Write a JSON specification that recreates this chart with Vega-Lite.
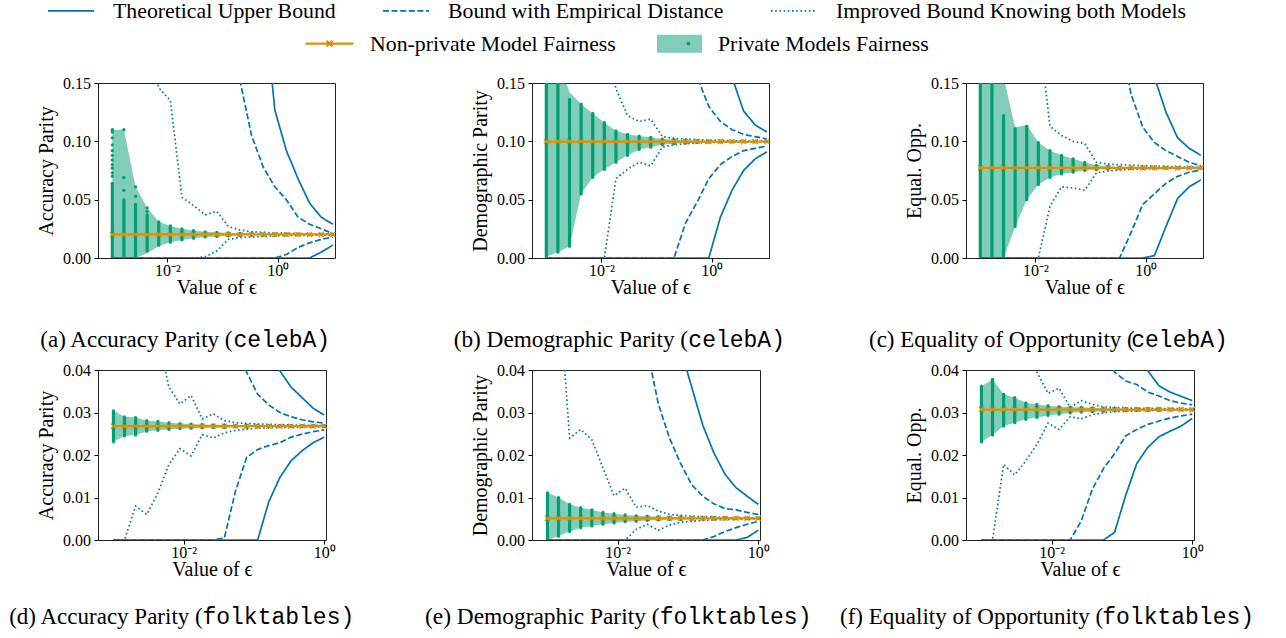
{
"$schema":"https://vega.github.io/schema/vega-lite/v6.json",
"padding":{"left":8,"top":0,"right":0,"bottom":0},
"background":"white",
"columns":3,
"spacing":{"row":112,"column":197},
"bounds":"flush",
"resolve":{"scale":{"strokeDash":"shared","color":"shared","fill":"shared","shape":"shared"}},
"config":{
"view":{"stroke":"#222","strokeWidth":1},
"font":"Liberation Serif",
"axis":{"labelFont":"Liberation Serif","labelFontSize":16,"labelColor":"#000","titleFont":"Liberation Serif","titleFontSize":20,"titleFontWeight":"normal","titleColor":"#000","domain":false,"grid":false,"ticks":true,"tickColor":"#000","tickSize":4,"tickWidth":1},
"axisX":{"labelBaseline":"alphabetic","labelPadding":13.3,"labelFlush":false,"labelOverlap":false,"titleBaseline":"alphabetic","titleY":35},
"axisY":{"labelPadding":3.5,"titleX":-46,"titleBaseline":"alphabetic"},
"legend":{"labelFont":"Liberation Serif","labelFontSize":21.8,"labelColor":"#000","padding":0,"clipHeight":20,"labelLimit":500},
"title":{"font":"Liberation Serif","fontSize":23,"fontWeight":"normal","color":"#000","anchor":"start","frame":"group","orient":"bottom","subtitleFont":"Liberation Mono","subtitleFontSize":23,"subtitleColor":"#000","subtitlePadding":-23,"limit":0}
},
"datasets":{
"m":[
{"p":"a","e":0.001,"tu":2,"tl":0,"du":1,"dl":0,"iu":0.6,"il":0,"lo":0,"hi":0.11,"s1":0,"s2":0.064,"f":0.0202},
{"p":"a","e":0.001624,"tu":1.7,"tl":0,"du":0.9,"dl":0,"iu":0.45,"il":0,"lo":0,"hi":0.11,"s1":0,"s2":0.05,"f":0.0202},
{"p":"a","e":0.002637,"tu":1.5,"tl":0,"du":0.8,"dl":0,"iu":0.3,"il":0,"lo":0,"hi":0.061,"s1":0,"s2":0.046,"f":0.0202},
{"p":"a","e":0.004281,"tu":1.3,"tl":0,"du":0.7,"dl":0,"iu":0.19,"il":0,"lo":0.004,"hi":0.043,"s1":0.006,"s2":0.037,"f":0.0202},
{"p":"a","e":0.006952,"tu":1.1,"tl":0,"du":0.6,"dl":0,"iu":0.146,"il":0,"lo":0.01,"hi":0.031,"s1":0.011,"s2":0.031,"f":0.0202},
{"p":"a","e":0.01129,"tu":1,"tl":0,"du":0.5,"dl":0,"iu":0.135,"il":0,"lo":0.0135,"hi":0.0275,"s1":0.0135,"s2":0.0275,"f":0.0202},
{"p":"a","e":0.01833,"tu":0.9,"tl":0,"du":0.45,"dl":0,"iu":0.052,"il":0,"lo":0.0155,"hi":0.025,"s1":0.0155,"s2":0.025,"f":0.0202},
{"p":"a","e":0.02976,"tu":0.8,"tl":0,"du":0.4,"dl":0,"iu":0.045,"il":0,"lo":0.017,"hi":0.0235,"s1":0.017,"s2":0.0235,"f":0.0202},
{"p":"a","e":0.04833,"tu":0.7,"tl":0,"du":0.35,"dl":0,"iu":0.037,"il":0.001,"lo":0.018,"hi":0.0225,"s1":0.018,"s2":0.0225,"f":0.0202},
{"p":"a","e":0.07848,"tu":0.6,"tl":0,"du":0.3,"dl":0,"iu":0.04,"il":0.006,"lo":0.0185,"hi":0.022,"s1":0.0185,"s2":0.022,"f":0.0202},
{"p":"a","e":0.1274,"tu":0.5,"tl":0,"du":0.25,"dl":0,"iu":0.027,"il":0.016,"lo":0.019,"hi":0.0215,"s1":0.019,"s2":0.0215,"f":0.0202},
{"p":"a","e":0.2069,"tu":0.4,"tl":0,"du":0.152,"dl":0,"iu":0.024,"il":0.0175,"lo":0.0192,"hi":0.0212,"s1":0.0192,"s2":0.0212,"f":0.0202},
{"p":"a","e":0.336,"tu":0.32,"tl":0,"du":0.105,"dl":0,"iu":0.0225,"il":0.018,"lo":0.0194,"hi":0.021,"s1":0.0194,"s2":0.021,"f":0.0202},
{"p":"a","e":0.5456,"tu":0.23,"tl":0,"du":0.078,"dl":0,"iu":0.022,"il":0.0185,"lo":0.0196,"hi":0.0208,"s1":0.0196,"s2":0.0208,"f":0.0202},
{"p":"a","e":0.8859,"tu":0.127,"tl":0,"du":0.061,"dl":0,"iu":0.0215,"il":0.019,"lo":0.0197,"hi":0.0207,"s1":0.0197,"s2":0.0207,"f":0.0202},
{"p":"a","e":1.438,"tu":0.092,"tl":0,"du":0.05,"dl":0.003,"iu":0.0212,"il":0.0192,"lo":0.0198,"hi":0.0206,"s1":0.0198,"s2":0.0206,"f":0.0202},
{"p":"a","e":2.336,"tu":0.068,"tl":0,"du":0.035,"dl":0.009,"iu":0.021,"il":0.0194,"lo":0.0199,"hi":0.0205,"s1":0.0199,"s2":0.0205,"f":0.0202},
{"p":"a","e":3.793,"tu":0.047,"tl":0,"du":0.029,"dl":0.013,"iu":0.0208,"il":0.0195,"lo":0.0199,"hi":0.0204,"s1":0.0199,"s2":0.0204,"f":0.0202},
{"p":"a","e":6.158,"tu":0.035,"tl":0.005,"du":0.025,"dl":0.016,"iu":0.0207,"il":0.0196,"lo":0.02,"hi":0.0204,"s1":0.02,"s2":0.0204,"f":0.0202},
{"p":"a","e":10,"tu":0.029,"tl":0.011,"du":0.021,"dl":0.018,"iu":0.0205,"il":0.0197,"lo":0.0201,"hi":0.0203,"s1":0.0201,"s2":0.0203,"f":0.0202},

{"p":"b","e":0.001,"tu":3,"tl":0,"du":2.5,"dl":0,"iu":1.2,"il":0,"lo":0.001,"hi":0.17,"s1":0.001,"s2":0.16,"f":0.0998},
{"p":"b","e":0.001624,"tu":2.6,"tl":0,"du":2.2,"dl":0,"iu":1,"il":0,"lo":0.005,"hi":0.17,"s1":0.005,"s2":0.16,"f":0.0998},
{"p":"b","e":0.002637,"tu":2.3,"tl":0,"du":1.9,"dl":0,"iu":0.8,"il":0,"lo":0.01,"hi":0.142,"s1":0.01,"s2":0.136,"f":0.0998},
{"p":"b","e":0.004281,"tu":2,"tl":0,"du":1.6,"dl":0,"iu":0.5,"il":0,"lo":0.055,"hi":0.132,"s1":0.055,"s2":0.132,"f":0.0998},
{"p":"b","e":0.006952,"tu":1.8,"tl":0,"du":1.3,"dl":0,"iu":0.3,"il":0,"lo":0.069,"hi":0.124,"s1":0.069,"s2":0.124,"f":0.0998},
{"p":"b","e":0.01129,"tu":1.6,"tl":0,"du":1.1,"dl":0,"iu":0.2,"il":0,"lo":0.076,"hi":0.116,"s1":0.076,"s2":0.116,"f":0.0998},
{"p":"b","e":0.01833,"tu":1.4,"tl":0,"du":0.9,"dl":0,"iu":0.145,"il":0.068,"lo":0.082,"hi":0.109,"s1":0.082,"s2":0.109,"f":0.0998},
{"p":"b","e":0.02976,"tu":1.2,"tl":0,"du":0.75,"dl":0,"iu":0.122,"il":0.076,"lo":0.088,"hi":0.106,"s1":0.088,"s2":0.106,"f":0.0998},
{"p":"b","e":0.04833,"tu":1,"tl":0,"du":0.6,"dl":0,"iu":0.117,"il":0.082,"lo":0.093,"hi":0.1045,"s1":0.093,"s2":0.1045,"f":0.0998},
{"p":"b","e":0.07848,"tu":0.9,"tl":0,"du":0.5,"dl":0,"iu":0.119,"il":0.079,"lo":0.095,"hi":0.1035,"s1":0.095,"s2":0.1035,"f":0.0998},
{"p":"b","e":0.1274,"tu":0.8,"tl":0,"du":0.4,"dl":0,"iu":0.104,"il":0.095,"lo":0.097,"hi":0.102,"s1":0.097,"s2":0.102,"f":0.0998},
{"p":"b","e":0.2069,"tu":0.7,"tl":0,"du":0.3,"dl":0,"iu":0.1025,"il":0.097,"lo":0.098,"hi":0.1015,"s1":0.098,"s2":0.1015,"f":0.0998},
{"p":"b","e":0.336,"tu":0.6,"tl":0,"du":0.22,"dl":0.03,"iu":0.102,"il":0.098,"lo":0.0985,"hi":0.101,"s1":0.0985,"s2":0.101,"f":0.0998},
{"p":"b","e":0.5456,"tu":0.5,"tl":0,"du":0.155,"dl":0.048,"iu":0.1015,"il":0.0985,"lo":0.099,"hi":0.1007,"s1":0.099,"s2":0.1007,"f":0.0998},
{"p":"b","e":0.8859,"tu":0.4,"tl":0,"du":0.13,"dl":0.068,"iu":0.101,"il":0.099,"lo":0.0992,"hi":0.1005,"s1":0.0992,"s2":0.1005,"f":0.0998},
{"p":"b","e":1.438,"tu":0.22,"tl":0.035,"du":0.117,"dl":0.08,"iu":0.1008,"il":0.0992,"lo":0.0994,"hi":0.1003,"s1":0.0994,"s2":0.1003,"f":0.0998},
{"p":"b","e":2.336,"tu":0.155,"tl":0.058,"du":0.11,"dl":0.087,"iu":0.1005,"il":0.0994,"lo":0.0995,"hi":0.1002,"s1":0.0995,"s2":0.1002,"f":0.0998},
{"p":"b","e":3.793,"tu":0.126,"tl":0.075,"du":0.106,"dl":0.092,"iu":0.1003,"il":0.0995,"lo":0.0996,"hi":0.1001,"s1":0.0996,"s2":0.1001,"f":0.0998},
{"p":"b","e":6.158,"tu":0.114,"tl":0.085,"du":0.104,"dl":0.094,"iu":0.1002,"il":0.0996,"lo":0.0996,"hi":0.1001,"s1":0.0996,"s2":0.1001,"f":0.0998},
{"p":"b","e":10,"tu":0.108,"tl":0.091,"du":0.102,"dl":0.096,"iu":0.1001,"il":0.0997,"lo":0.0997,"hi":0.1,"s1":0.0997,"s2":0.1,"f":0.0998},

{"p":"c","e":0.001,"tu":3,"tl":0,"du":2.5,"dl":0,"iu":1.2,"il":0,"lo":0,"hi":0.17,"s1":0,"s2":0.16,"f":0.0773},
{"p":"c","e":0.001624,"tu":2.6,"tl":0,"du":2.2,"dl":0,"iu":1,"il":0,"lo":0,"hi":0.17,"s1":0,"s2":0.16,"f":0.0773},
{"p":"c","e":0.002637,"tu":2.3,"tl":0,"du":1.9,"dl":0,"iu":0.7,"il":0,"lo":0,"hi":0.155,"s1":0,"s2":0.122,"f":0.0773},
{"p":"c","e":0.004281,"tu":2,"tl":0,"du":1.6,"dl":0,"iu":0.45,"il":0,"lo":0.0265,"hi":0.112,"s1":0.027,"s2":0.111,"f":0.0773},
{"p":"c","e":0.006952,"tu":1.8,"tl":0,"du":1.3,"dl":0,"iu":0.3,"il":0,"lo":0.05,"hi":0.114,"s1":0.05,"s2":0.113,"f":0.0773},
{"p":"c","e":0.01129,"tu":1.6,"tl":0,"du":1.1,"dl":0,"iu":0.2,"il":0,"lo":0.063,"hi":0.099,"s1":0.063,"s2":0.099,"f":0.0773},
{"p":"c","e":0.01833,"tu":1.4,"tl":0,"du":0.9,"dl":0,"iu":0.113,"il":0.044,"lo":0.069,"hi":0.092,"s1":0.069,"s2":0.092,"f":0.0773},
{"p":"c","e":0.02976,"tu":1.2,"tl":0,"du":0.75,"dl":0,"iu":0.105,"il":0.061,"lo":0.072,"hi":0.088,"s1":0.072,"s2":0.088,"f":0.0773},
{"p":"c","e":0.04833,"tu":1,"tl":0,"du":0.6,"dl":0,"iu":0.1,"il":0.06,"lo":0.0735,"hi":0.085,"s1":0.0735,"s2":0.085,"f":0.0773},
{"p":"c","e":0.07848,"tu":0.9,"tl":0,"du":0.5,"dl":0,"iu":0.098,"il":0.058,"lo":0.075,"hi":0.082,"s1":0.075,"s2":0.082,"f":0.0773},
{"p":"c","e":0.1274,"tu":0.8,"tl":0,"du":0.4,"dl":0,"iu":0.082,"il":0.073,"lo":0.0758,"hi":0.0795,"s1":0.0758,"s2":0.0795,"f":0.0773},
{"p":"c","e":0.2069,"tu":0.7,"tl":0,"du":0.3,"dl":0,"iu":0.0805,"il":0.0745,"lo":0.0762,"hi":0.0785,"s1":0.0762,"s2":0.0785,"f":0.0773},
{"p":"c","e":0.336,"tu":0.6,"tl":0,"du":0.19,"dl":0,"iu":0.08,"il":0.0755,"lo":0.0765,"hi":0.078,"s1":0.0765,"s2":0.078,"f":0.0773},
{"p":"c","e":0.5456,"tu":0.5,"tl":0,"du":0.14,"dl":0.022,"iu":0.0795,"il":0.076,"lo":0.0767,"hi":0.0778,"s1":0.0767,"s2":0.0778,"f":0.0773},
{"p":"c","e":0.8859,"tu":0.22,"tl":0,"du":0.112,"dl":0.046,"iu":0.079,"il":0.0763,"lo":0.0768,"hi":0.0777,"s1":0.0768,"s2":0.0777,"f":0.0773},
{"p":"c","e":1.438,"tu":0.155,"tl":0.002,"du":0.099,"dl":0.055,"iu":0.0787,"il":0.0766,"lo":0.0769,"hi":0.0776,"s1":0.0769,"s2":0.0776,"f":0.0773},
{"p":"c","e":2.336,"tu":0.125,"tl":0.027,"du":0.092,"dl":0.064,"iu":0.0784,"il":0.0768,"lo":0.077,"hi":0.0776,"s1":0.077,"s2":0.0776,"f":0.0773},
{"p":"c","e":3.793,"tu":0.103,"tl":0.051,"du":0.087,"dl":0.07,"iu":0.0781,"il":0.077,"lo":0.077,"hi":0.0775,"s1":0.077,"s2":0.0775,"f":0.0773},
{"p":"c","e":6.158,"tu":0.094,"tl":0.061,"du":0.082,"dl":0.0735,"iu":0.0779,"il":0.0771,"lo":0.0771,"hi":0.0775,"s1":0.0771,"s2":0.0775,"f":0.0773},
{"p":"c","e":10,"tu":0.088,"tl":0.067,"du":0.079,"dl":0.0755,"iu":0.0777,"il":0.0772,"lo":0.0771,"hi":0.0775,"s1":0.0771,"s2":0.0775,"f":0.0773},

{"p":"d","e":0.001,"tu":2,"tl":0,"du":1,"dl":0,"iu":0.3,"il":0,"lo":0.0231,"hi":0.0304,"s1":0.0231,"s2":0.0304,"f":0.0268},
{"p":"d","e":0.001438,"tu":1.6,"tl":0,"du":0.8,"dl":0,"iu":0.2,"il":0,"lo":0.0245,"hi":0.029,"s1":0.0245,"s2":0.029,"f":0.0268},
{"p":"d","e":0.002069,"tu":1.3,"tl":0,"du":0.6,"dl":0,"iu":0.12,"il":0.008,"lo":0.0247,"hi":0.0288,"s1":0.0247,"s2":0.0288,"f":0.0268},
{"p":"d","e":0.002976,"tu":1,"tl":0,"du":0.45,"dl":0,"iu":0.08,"il":0.006,"lo":0.0256,"hi":0.0281,"s1":0.0256,"s2":0.0281,"f":0.0268},
{"p":"d","e":0.004281,"tu":0.8,"tl":0,"du":0.35,"dl":0,"iu":0.048,"il":0.011,"lo":0.0258,"hi":0.0279,"s1":0.0258,"s2":0.0279,"f":0.0268},
{"p":"d","e":0.006158,"tu":0.6,"tl":0,"du":0.25,"dl":0,"iu":0.036,"il":0.0178,"lo":0.026,"hi":0.0276,"s1":0.026,"s2":0.0276,"f":0.0268},
{"p":"d","e":0.008859,"tu":0.5,"tl":0,"du":0.18,"dl":0,"iu":0.032,"il":0.0215,"lo":0.0262,"hi":0.0274,"s1":0.0262,"s2":0.0274,"f":0.0268},
{"p":"d","e":0.01274,"tu":0.4,"tl":0,"du":0.13,"dl":0,"iu":0.034,"il":0.0198,"lo":0.0263,"hi":0.0273,"s1":0.0263,"s2":0.0273,"f":0.0268},
{"p":"d","e":0.01833,"tu":0.3,"tl":0,"du":0.1,"dl":0,"iu":0.0285,"il":0.0248,"lo":0.0264,"hi":0.0272,"s1":0.0264,"s2":0.0272,"f":0.0268},
{"p":"d","e":0.02637,"tu":0.22,"tl":0,"du":0.08,"dl":0,"iu":0.0297,"il":0.024,"lo":0.0265,"hi":0.0271,"s1":0.0265,"s2":0.0271,"f":0.0268},
{"p":"d","e":0.03793,"tu":0.16,"tl":0,"du":0.07,"dl":0.0005,"iu":0.0281,"il":0.0252,"lo":0.0265,"hi":0.0271,"s1":0.0265,"s2":0.0271,"f":0.0268},
{"p":"d","e":0.05456,"tu":0.12,"tl":0,"du":0.06,"dl":0.0115,"iu":0.0276,"il":0.0258,"lo":0.0266,"hi":0.027,"s1":0.0266,"s2":0.027,"f":0.0268},
{"p":"d","e":0.07848,"tu":0.09,"tl":0,"du":0.0395,"dl":0.0194,"iu":0.0274,"il":0.0261,"lo":0.0266,"hi":0.027,"s1":0.0266,"s2":0.027,"f":0.0268},
{"p":"d","e":0.1129,"tu":0.075,"tl":0,"du":0.0343,"dl":0.0213,"iu":0.0273,"il":0.0263,"lo":0.0266,"hi":0.0269,"s1":0.0266,"s2":0.0269,"f":0.0268},
{"p":"d","e":0.1624,"tu":0.06,"tl":0.009,"du":0.0318,"dl":0.0222,"iu":0.0272,"il":0.0264,"lo":0.0267,"hi":0.0269,"s1":0.0267,"s2":0.0269,"f":0.0268},
{"p":"d","e":0.2336,"tu":0.0398,"tl":0.0147,"du":0.03,"dl":0.0229,"iu":0.0271,"il":0.0265,"lo":0.0267,"hi":0.0269,"s1":0.0267,"s2":0.0269,"f":0.0268},
{"p":"d","e":0.336,"tu":0.036,"tl":0.0186,"du":0.029,"dl":0.0242,"iu":0.0271,"il":0.0265,"lo":0.0267,"hi":0.0269,"s1":0.0267,"s2":0.0269,"f":0.0268},
{"p":"d","e":0.4833,"tu":0.0335,"tl":0.021,"du":0.0283,"dl":0.0249,"iu":0.027,"il":0.0266,"lo":0.0267,"hi":0.0269,"s1":0.0267,"s2":0.0269,"f":0.0268},
{"p":"d","e":0.6952,"tu":0.031,"tl":0.0229,"du":0.0278,"dl":0.0255,"iu":0.027,"il":0.0266,"lo":0.0267,"hi":0.0269,"s1":0.0267,"s2":0.0269,"f":0.0268},
{"p":"d","e":1,"tu":0.0294,"tl":0.0242,"du":0.0275,"dl":0.0259,"iu":0.027,"il":0.0266,"lo":0.0267,"hi":0.0269,"s1":0.0267,"s2":0.0269,"f":0.0268},

{"p":"e","e":0.001,"tu":2,"tl":0,"du":1,"dl":0,"iu":0.2,"il":0,"lo":0,"hi":0.0111,"s1":0,"s2":0.0111,"f":0.0051},
{"p":"e","e":0.001438,"tu":1.6,"tl":0,"du":0.8,"dl":0,"iu":0.06,"il":0,"lo":0.0009,"hi":0.01,"s1":0.0009,"s2":0.01,"f":0.0051},
{"p":"e","e":0.002069,"tu":1.3,"tl":0,"du":0.6,"dl":0,"iu":0.024,"il":0,"lo":0.002,"hi":0.0084,"s1":0.002,"s2":0.0084,"f":0.0051},
{"p":"e","e":0.002976,"tu":1,"tl":0,"du":0.45,"dl":0,"iu":0.026,"il":0,"lo":0.0029,"hi":0.0076,"s1":0.0029,"s2":0.0076,"f":0.0051},
{"p":"e","e":0.004281,"tu":0.8,"tl":0,"du":0.3,"dl":0,"iu":0.0236,"il":0,"lo":0.0033,"hi":0.0071,"s1":0.0033,"s2":0.0071,"f":0.0051},
{"p":"e","e":0.006158,"tu":0.6,"tl":0,"du":0.2,"dl":0,"iu":0.017,"il":0,"lo":0.0037,"hi":0.0065,"s1":0.0037,"s2":0.0065,"f":0.0051},
{"p":"e","e":0.008859,"tu":0.45,"tl":0,"du":0.14,"dl":0,"iu":0.0104,"il":0,"lo":0.004,"hi":0.0062,"s1":0.004,"s2":0.0062,"f":0.0051},
{"p":"e","e":0.01274,"tu":0.3,"tl":0,"du":0.1,"dl":0,"iu":0.0122,"il":0,"lo":0.0043,"hi":0.0059,"s1":0.0043,"s2":0.0059,"f":0.0051},
{"p":"e","e":0.01833,"tu":0.2,"tl":0,"du":0.07,"dl":0,"iu":0.0077,"il":0.0025,"lo":0.0044,"hi":0.0057,"s1":0.0044,"s2":0.0057,"f":0.0051},
{"p":"e","e":0.02637,"tu":0.15,"tl":0,"du":0.0445,"dl":0,"iu":0.0081,"il":0.0037,"lo":0.0046,"hi":0.0056,"s1":0.0046,"s2":0.0056,"f":0.0051},
{"p":"e","e":0.03793,"tu":0.11,"tl":0,"du":0.032,"dl":0,"iu":0.0068,"il":0.0023,"lo":0.0047,"hi":0.0055,"s1":0.0047,"s2":0.0055,"f":0.0051},
{"p":"e","e":0.05456,"tu":0.08,"tl":0,"du":0.024,"dl":0,"iu":0.006,"il":0.0035,"lo":0.0048,"hi":0.0054,"s1":0.0048,"s2":0.0054,"f":0.0051},
{"p":"e","e":0.07848,"tu":0.045,"tl":0,"du":0.018,"dl":0,"iu":0.0058,"il":0.0042,"lo":0.0048,"hi":0.0054,"s1":0.0048,"s2":0.0054,"f":0.0051},
{"p":"e","e":0.1129,"tu":0.036,"tl":0,"du":0.013,"dl":0,"iu":0.0056,"il":0.0044,"lo":0.0049,"hi":0.0053,"s1":0.0049,"s2":0.0053,"f":0.0051},
{"p":"e","e":0.1624,"tu":0.027,"tl":0,"du":0.0103,"dl":0,"iu":0.0055,"il":0.0046,"lo":0.0049,"hi":0.0053,"s1":0.0049,"s2":0.0053,"f":0.0051},
{"p":"e","e":0.2336,"tu":0.0205,"tl":0,"du":0.0085,"dl":0.0008,"iu":0.0054,"il":0.0047,"lo":0.0049,"hi":0.0053,"s1":0.0049,"s2":0.0053,"f":0.0051},
{"p":"e","e":0.336,"tu":0.0155,"tl":0,"du":0.0074,"dl":0.002,"iu":0.0053,"il":0.0048,"lo":0.005,"hi":0.0053,"s1":0.005,"s2":0.0053,"f":0.0051},
{"p":"e","e":0.4833,"tu":0.0123,"tl":0,"du":0.0071,"dl":0.0029,"iu":0.0053,"il":0.0049,"lo":0.005,"hi":0.0052,"s1":0.005,"s2":0.0052,"f":0.0051},
{"p":"e","e":0.6952,"tu":0.0103,"tl":0.0006,"du":0.0065,"dl":0.0037,"iu":0.0052,"il":0.0049,"lo":0.005,"hi":0.0052,"s1":0.005,"s2":0.0052,"f":0.0051},
{"p":"e","e":1,"tu":0.0084,"tl":0.0023,"du":0.006,"dl":0.0044,"iu":0.0052,"il":0.005,"lo":0.005,"hi":0.0052,"s1":0.005,"s2":0.0052,"f":0.0051},

{"p":"f","e":0.001,"tu":2,"tl":0,"du":1,"dl":0,"iu":0.3,"il":0,"lo":0.0231,"hi":0.0362,"s1":0.0231,"s2":0.0362,"f":0.0307},
{"p":"f","e":0.001438,"tu":1.6,"tl":0,"du":0.8,"dl":0,"iu":0.2,"il":0,"lo":0.0247,"hi":0.0378,"s1":0.0247,"s2":0.0378,"f":0.0307},
{"p":"f","e":0.002069,"tu":1.3,"tl":0,"du":0.6,"dl":0,"iu":0.12,"il":0.0178,"lo":0.0268,"hi":0.0343,"s1":0.0268,"s2":0.0343,"f":0.0307},
{"p":"f","e":0.002976,"tu":1,"tl":0,"du":0.45,"dl":0,"iu":0.08,"il":0.0153,"lo":0.0276,"hi":0.0335,"s1":0.0276,"s2":0.0335,"f":0.0307},
{"p":"f","e":0.004281,"tu":0.8,"tl":0,"du":0.35,"dl":0,"iu":0.06,"il":0.0186,"lo":0.0284,"hi":0.0323,"s1":0.0284,"s2":0.0323,"f":0.0307},
{"p":"f","e":0.006158,"tu":0.6,"tl":0,"du":0.25,"dl":0,"iu":0.0395,"il":0.0225,"lo":0.0288,"hi":0.0319,"s1":0.0288,"s2":0.0319,"f":0.0307},
{"p":"f","e":0.008859,"tu":0.5,"tl":0,"du":0.18,"dl":0,"iu":0.0345,"il":0.0275,"lo":0.0293,"hi":0.0316,"s1":0.0293,"s2":0.0316,"f":0.0307},
{"p":"f","e":0.01274,"tu":0.4,"tl":0,"du":0.13,"dl":0,"iu":0.0357,"il":0.026,"lo":0.0296,"hi":0.0314,"s1":0.0296,"s2":0.0314,"f":0.0307},
{"p":"f","e":0.01833,"tu":0.3,"tl":0,"du":0.1,"dl":0,"iu":0.0312,"il":0.029,"lo":0.0299,"hi":0.0313,"s1":0.0299,"s2":0.0313,"f":0.0307},
{"p":"f","e":0.02637,"tu":0.22,"tl":0,"du":0.075,"dl":0.0045,"iu":0.0328,"il":0.0285,"lo":0.0301,"hi":0.0312,"s1":0.0301,"s2":0.0312,"f":0.0307},
{"p":"f","e":0.03793,"tu":0.16,"tl":0,"du":0.06,"dl":0.012,"iu":0.0319,"il":0.0295,"lo":0.0302,"hi":0.0311,"s1":0.0302,"s2":0.0311,"f":0.0307},
{"p":"f","e":0.05456,"tu":0.12,"tl":0,"du":0.046,"dl":0.0168,"iu":0.0313,"il":0.0299,"lo":0.0303,"hi":0.031,"s1":0.0303,"s2":0.031,"f":0.0307},
{"p":"f","e":0.07848,"tu":0.09,"tl":0.0018,"du":0.0395,"dl":0.0203,"iu":0.0312,"il":0.0302,"lo":0.0304,"hi":0.031,"s1":0.0304,"s2":0.031,"f":0.0307},
{"p":"f","e":0.1129,"tu":0.075,"tl":0.0105,"du":0.0374,"dl":0.0245,"iu":0.0311,"il":0.0303,"lo":0.0304,"hi":0.0309,"s1":0.0304,"s2":0.0309,"f":0.0307},
{"p":"f","e":0.1624,"tu":0.06,"tl":0.018,"du":0.0366,"dl":0.026,"iu":0.031,"il":0.0304,"lo":0.0305,"hi":0.0309,"s1":0.0305,"s2":0.0309,"f":0.0307},
{"p":"f","e":0.2336,"tu":0.0398,"tl":0.0218,"du":0.0348,"dl":0.0272,"iu":0.031,"il":0.0305,"lo":0.0305,"hi":0.0309,"s1":0.0305,"s2":0.0309,"f":0.0307},
{"p":"f","e":0.336,"tu":0.0363,"tl":0.0243,"du":0.0339,"dl":0.028,"iu":0.0309,"il":0.0305,"lo":0.0305,"hi":0.0309,"s1":0.0305,"s2":0.0309,"f":0.0307},
{"p":"f","e":0.4833,"tu":0.0348,"tl":0.0256,"du":0.0328,"dl":0.0287,"iu":0.0309,"il":0.0306,"lo":0.0306,"hi":0.0308,"s1":0.0306,"s2":0.0308,"f":0.0307},
{"p":"f","e":0.6952,"tu":0.0338,"tl":0.0268,"du":0.0322,"dl":0.0292,"iu":0.0309,"il":0.0306,"lo":0.0306,"hi":0.0308,"s1":0.0306,"s2":0.0308,"f":0.0307},
{"p":"f","e":1,"tu":0.0328,"tl":0.0286,"du":0.0318,"dl":0.0296,"iu":0.0308,"il":0.0306,"lo":0.0306,"hi":0.0308,"s1":0.0306,"s2":0.0308,"f":0.0307}
],
"pts":[
{"p":"a","e":0.001,"y":0.11},{"p":"a","e":0.001,"y":0.108},{"p":"a","e":0.001,"y":0.103},{"p":"a","e":0.001,"y":0.097},{"p":"a","e":0.001,"y":0.092},{"p":"a","e":0.001,"y":0.088},{"p":"a","e":0.001,"y":0.084},{"p":"a","e":0.001,"y":0.08},{"p":"a","e":0.001,"y":0.077},{"p":"a","e":0.001,"y":0.073},{"p":"a","e":0.001,"y":0.07},
{"p":"a","e":0.001624,"y":0.11},{"p":"a","e":0.001624,"y":0.069},{"p":"a","e":0.001624,"y":0.058},
{"p":"a","e":0.002637,"y":0.061},{"p":"a","e":0.002637,"y":0.053},
{"p":"a","e":0.004281,"y":0.043},{"p":"a","e":0.004281,"y":0.04}
]
},
"concat":[
{
"width":237,"height":175,
"data":{"name":"m"},
"transform":[{"filter":"datum.p === 'a'"}],
"title":{"text":"(a) Accuracy Parity (","subtitle":"\u200b\u00a0\u00a0\u00a0\u00a0\u00a0\u00a0\u00a0\u00a0\u00a0\u00a0\u00a0\u00a0\u00a0\u00a0celebA)","dx":-57.7,"offset":32},
"encoding":{"x":{"field":"e","type":"quantitative","title":"Value of \u03f5","scale":{"type":"log","domain":[0.00055,10.96],"nice":false},"axis":{"values":[0.01,1],"labelExpr":"datum.value < 0.1 ? '10\u207b\u00b2' : '10\u2070'"}}},
"layer":[
{"mark":{"type":"area","clip":true,"opacity":0.5},"encoding":{"y":{"field":"lo","type":"quantitative","title":"Accuracy Parity","scale":{"domain":[0,0.15],"nice":false,"zero":false},"axis":{"values":[0,0.05,0.1,0.15],"format":".2f"}},"y2":{"field":"hi"},"fill":{"datum":"Private Models Fairness","type":"nominal","scale":{"domain":["Private Models Fairness"],"range":["#029E73"]},"legend":{"orient":"none","legendX":559,"legendY":-49.3,"title":null,"direction":"horizontal","symbolType":"M-1,-0.4H1V0.4H-1Z","symbolSize":2025,"symbolOpacity":0.5,"symbolStrokeWidth":0,"labelOffset":16}}}},
{"transform":[{"fold":["tu","tl","du","dl","iu","il"],"as":["k","v"]}],"mark":{"type":"line","clip":true,"strokeWidth":1.7,"color":"#0173B2"},"encoding":{"y":{"field":"v","type":"quantitative","title":"Accuracy Parity","scale":{"domain":[0,0.15],"nice":false,"zero":false},"axis":{"values":[0,0.05,0.1,0.15],"format":".2f"}},"strokeDash":{"field":"k","type":"nominal","scale":{"domain":["tu","du","iu","tl","dl","il"],"range":[[1,0],[6,2.6],[1.6,2.6],[1,0],[6,2.6],[1.6,2.6]]},"legend":{"orient":"none","legendX":-51,"legendY":-82.3,"title":null,"direction":"horizontal","columns":3,"values":["tu","du","iu"],"labelExpr":"datum.value == 'tu' ? 'Theoretical Upper Bound' : (datum.value == 'du' ? 'Bound with Empirical Distance' : 'Improved Bound Knowing both Models')","symbolType":"stroke","symbolSize":2116,"symbolStrokeWidth":1.7,"symbolStrokeColor":"#0173B2","labelOffset":18,"columnPadding":46}}}},
{"mark":{"type":"rule","clip":true,"strokeWidth":3.2,"strokeCap":"round","color":"#029E73"},"encoding":{"y":{"field":"s1","type":"quantitative","title":"Accuracy Parity","scale":{"domain":[0,0.15],"nice":false,"zero":false},"axis":{"values":[0,0.05,0.1,0.15],"format":".2f"}},"y2":{"field":"s2"}}},
{"data":{"name":"pts"},"transform":[{"filter":"datum.p === 'a'"}],"mark":{"type":"point","filled":true,"size":11,"opacity":1,"color":"#029E73"},"encoding":{"y":{"field":"y","type":"quantitative","title":"Accuracy Parity","scale":{"domain":[0,0.15],"nice":false,"zero":false},"axis":{"values":[0,0.05,0.1,0.15],"format":".2f"}},"shape":{"datum":"dot","type":"nominal","scale":{"domain":["dot"],"range":["circle"]},"legend":{"orient":"none","legendX":579.5,"legendY":-49.3,"title":null,"labelExpr":"''","symbolSize":14,"symbolFillColor":"#029E73","symbolStrokeWidth":0,"labelOffset":0}}}},
{"mark":{"type":"line","strokeWidth":2.2},"encoding":{"y":{"field":"f","type":"quantitative","title":"Accuracy Parity","scale":{"domain":[0,0.15],"nice":false,"zero":false},"axis":{"values":[0,0.05,0.1,0.15],"format":".2f"}},"color":{"datum":"Non-private Model Fairness","type":"nominal","scale":{"domain":["Non-private Model Fairness"],"range":["#DE8F05"]},"legend":{"orient":"none","legendX":206,"legendY":-49.3,"title":null,"direction":"horizontal","symbolType":"M-1,0H1M-0.12,-0.12L0.12,0.12M-0.12,0.12L0.12,-0.12","symbolSize":2304,"symbolStrokeWidth":2.2,"symbolFillColor":"transparent","labelOffset":15}}}},
{"mark":{"type":"point","shape":"M-1,-1L1,1M-1,1L1,-1","size":26,"strokeWidth":1.2,"opacity":1,"filled":false,"color":"#DE8F05"},"encoding":{"y":{"field":"f","type":"quantitative","title":"Accuracy Parity","scale":{"domain":[0,0.15],"nice":false,"zero":false},"axis":{"values":[0,0.05,0.1,0.15],"format":".2f"}}}}
]
},
{
"width":237,"height":175,
"data":{"name":"m"},
"transform":[{"filter":"datum.p === 'b'"}],
"title":{"text":"(b) Demographic Parity (","subtitle":"\u200b\u00a0\u00a0\u00a0\u00a0\u00a0\u00a0\u00a0\u00a0\u00a0\u00a0\u00a0\u00a0\u00a0\u00a0\u00a0\u00a0\u00a0celebA)","dx":-78.3,"offset":32,"fontSize":23.25},
"encoding":{"x":{"field":"e","type":"quantitative","title":"Value of \u03f5","scale":{"type":"log","domain":[0.00055,10.96],"nice":false},"axis":{"values":[0.01,1],"labelExpr":"datum.value < 0.1 ? '10\u207b\u00b2' : '10\u2070'"}}},
"layer":[
{"mark":{"type":"area","clip":true,"opacity":0.5},"encoding":{"y":{"field":"lo","type":"quantitative","title":"Demographic Parity","scale":{"domain":[0,0.15],"nice":false,"zero":false},"axis":{"values":[0,0.05,0.1,0.15],"format":".2f"}},"y2":{"field":"hi"},"fill":{"datum":"Private Models Fairness","type":"nominal","legend":null}}},
{"transform":[{"fold":["tu","tl","du","dl","iu","il"],"as":["k","v"]}],"mark":{"type":"line","clip":true,"strokeWidth":1.7,"color":"#0173B2"},"encoding":{"y":{"field":"v","type":"quantitative","title":"Demographic Parity","scale":{"domain":[0,0.15],"nice":false,"zero":false},"axis":{"values":[0,0.05,0.1,0.15],"format":".2f"}},"strokeDash":{"field":"k","type":"nominal","legend":null}}},
{"mark":{"type":"rule","clip":true,"strokeWidth":3.2,"strokeCap":"round","color":"#029E73"},"encoding":{"y":{"field":"s1","type":"quantitative","title":"Demographic Parity","scale":{"domain":[0,0.15],"nice":false,"zero":false},"axis":{"values":[0,0.05,0.1,0.15],"format":".2f"}},"y2":{"field":"s2"}}},
{"mark":{"type":"line","strokeWidth":2.2},"encoding":{"y":{"field":"f","type":"quantitative","title":"Demographic Parity","scale":{"domain":[0,0.15],"nice":false,"zero":false},"axis":{"values":[0,0.05,0.1,0.15],"format":".2f"}},"color":{"datum":"Non-private Model Fairness","type":"nominal","legend":null}}},
{"mark":{"type":"point","shape":"M-1,-1L1,1M-1,1L1,-1","size":26,"strokeWidth":1.2,"opacity":1,"filled":false,"color":"#DE8F05"},"encoding":{"y":{"field":"f","type":"quantitative","title":"Demographic Parity","scale":{"domain":[0,0.15],"nice":false,"zero":false},"axis":{"values":[0,0.05,0.1,0.15],"format":".2f"}}}}
]
},
{
"width":237,"height":175,
"data":{"name":"m"},
"transform":[{"filter":"datum.p === 'c'"}],
"title":{"text":"(c) Equality of Opportunity (","subtitle":"\u200b\u00a0\u00a0\u00a0\u00a0\u00a0\u00a0\u00a0\u00a0\u00a0\u00a0\u00a0\u00a0\u00a0\u00a0\u00a0\u00a0\u00a0\u00a0\u00a0celebA)","dx":-97,"offset":32},
"encoding":{"x":{"field":"e","type":"quantitative","title":"Value of \u03f5","scale":{"type":"log","domain":[0.00055,10.96],"nice":false},"axis":{"values":[0.01,1],"labelExpr":"datum.value < 0.1 ? '10\u207b\u00b2' : '10\u2070'"}}},
"layer":[
{"mark":{"type":"area","clip":true,"opacity":0.5},"encoding":{"y":{"field":"lo","type":"quantitative","title":"Equal. Opp.","scale":{"domain":[0,0.15],"nice":false,"zero":false},"axis":{"values":[0,0.05,0.1,0.15],"format":".2f"}},"y2":{"field":"hi"},"fill":{"datum":"Private Models Fairness","type":"nominal","legend":null}}},
{"transform":[{"fold":["tu","tl","du","dl","iu","il"],"as":["k","v"]}],"mark":{"type":"line","clip":true,"strokeWidth":1.7,"color":"#0173B2"},"encoding":{"y":{"field":"v","type":"quantitative","title":"Equal. Opp.","scale":{"domain":[0,0.15],"nice":false,"zero":false},"axis":{"values":[0,0.05,0.1,0.15],"format":".2f"}},"strokeDash":{"field":"k","type":"nominal","legend":null}}},
{"mark":{"type":"rule","clip":true,"strokeWidth":3.2,"strokeCap":"round","color":"#029E73"},"encoding":{"y":{"field":"s1","type":"quantitative","title":"Equal. Opp.","scale":{"domain":[0,0.15],"nice":false,"zero":false},"axis":{"values":[0,0.05,0.1,0.15],"format":".2f"}},"y2":{"field":"s2"}}},
{"mark":{"type":"line","strokeWidth":2.2},"encoding":{"y":{"field":"f","type":"quantitative","title":"Equal. Opp.","scale":{"domain":[0,0.15],"nice":false,"zero":false},"axis":{"values":[0,0.05,0.1,0.15],"format":".2f"}},"color":{"datum":"Non-private Model Fairness","type":"nominal","legend":null}}},
{"mark":{"type":"point","shape":"M-1,-1L1,1M-1,1L1,-1","size":26,"strokeWidth":1.2,"opacity":1,"filled":false,"color":"#DE8F05"},"encoding":{"y":{"field":"f","type":"quantitative","title":"Equal. Opp.","scale":{"domain":[0,0.15],"nice":false,"zero":false},"axis":{"values":[0,0.05,0.1,0.15],"format":".2f"}}}}
]
},
{
"width":228,"height":170,
"data":{"name":"m"},
"transform":[{"filter":"datum.p === 'd'"}],
"title":{"text":"(d) Accuracy Parity (","subtitle":"\u200b\u00a0\u00a0\u00a0\u00a0\u00a0\u00a0\u00a0\u00a0\u00a0\u00a0\u00a0\u00a0\u00a0\u00a0folktables)","dx":-88.8,"offset":26.5},
"encoding":{"x":{"field":"e","type":"quantitative","title":"Value of \u03f5","scale":{"type":"log","domain":[0.000603,1.059],"nice":false},"axis":{"values":[0.01,1],"labelExpr":"datum.value < 0.1 ? '10\u207b\u00b2' : '10\u2070'"}}},
"layer":[
{"mark":{"type":"area","clip":true,"opacity":0.5},"encoding":{"y":{"field":"lo","type":"quantitative","title":"Accuracy Parity","scale":{"domain":[0,0.04],"nice":false,"zero":false},"axis":{"values":[0,0.01,0.02,0.03,0.04],"format":".2f"}},"y2":{"field":"hi"},"fill":{"datum":"Private Models Fairness","type":"nominal","legend":null}}},
{"transform":[{"fold":["tu","tl","du","dl","iu","il"],"as":["k","v"]}],"mark":{"type":"line","clip":true,"strokeWidth":1.7,"color":"#0173B2"},"encoding":{"y":{"field":"v","type":"quantitative","title":"Accuracy Parity","scale":{"domain":[0,0.04],"nice":false,"zero":false},"axis":{"values":[0,0.01,0.02,0.03,0.04],"format":".2f"}},"strokeDash":{"field":"k","type":"nominal","legend":null}}},
{"mark":{"type":"rule","clip":true,"strokeWidth":3.2,"strokeCap":"round","color":"#029E73"},"encoding":{"y":{"field":"s1","type":"quantitative","title":"Accuracy Parity","scale":{"domain":[0,0.04],"nice":false,"zero":false},"axis":{"values":[0,0.01,0.02,0.03,0.04],"format":".2f"}},"y2":{"field":"s2"}}},
{"mark":{"type":"line","strokeWidth":2.2},"encoding":{"y":{"field":"f","type":"quantitative","title":"Accuracy Parity","scale":{"domain":[0,0.04],"nice":false,"zero":false},"axis":{"values":[0,0.01,0.02,0.03,0.04],"format":".2f"}},"color":{"datum":"Non-private Model Fairness","type":"nominal","legend":null}}},
{"mark":{"type":"point","shape":"M-1,-1L1,1M-1,1L1,-1","size":26,"strokeWidth":1.2,"opacity":1,"filled":false,"color":"#DE8F05"},"encoding":{"y":{"field":"f","type":"quantitative","title":"Accuracy Parity","scale":{"domain":[0,0.04],"nice":false,"zero":false},"axis":{"values":[0,0.01,0.02,0.03,0.04],"format":".2f"}}}}
]
},
{
"width":228,"height":170,
"data":{"name":"m"},
"transform":[{"filter":"datum.p === 'e'"}],
"title":{"text":"(e) Demographic Parity (","subtitle":"\u200b\u00a0\u00a0\u00a0\u00a0\u00a0\u00a0\u00a0\u00a0\u00a0\u00a0\u00a0\u00a0\u00a0\u00a0\u00a0\u00a0\u00a0folktables)","dx":-107,"offset":26.5,"fontSize":23.4},
"encoding":{"x":{"field":"e","type":"quantitative","title":"Value of \u03f5","scale":{"type":"log","domain":[0.000603,1.059],"nice":false},"axis":{"values":[0.01,1],"labelExpr":"datum.value < 0.1 ? '10\u207b\u00b2' : '10\u2070'"}}},
"layer":[
{"mark":{"type":"area","clip":true,"opacity":0.5},"encoding":{"y":{"field":"lo","type":"quantitative","title":"Demographic Parity","scale":{"domain":[0,0.04],"nice":false,"zero":false},"axis":{"values":[0,0.01,0.02,0.03,0.04],"format":".2f"}},"y2":{"field":"hi"},"fill":{"datum":"Private Models Fairness","type":"nominal","legend":null}}},
{"transform":[{"fold":["tu","tl","du","dl","iu","il"],"as":["k","v"]}],"mark":{"type":"line","clip":true,"strokeWidth":1.7,"color":"#0173B2"},"encoding":{"y":{"field":"v","type":"quantitative","title":"Demographic Parity","scale":{"domain":[0,0.04],"nice":false,"zero":false},"axis":{"values":[0,0.01,0.02,0.03,0.04],"format":".2f"}},"strokeDash":{"field":"k","type":"nominal","legend":null}}},
{"mark":{"type":"rule","clip":true,"strokeWidth":3.2,"strokeCap":"round","color":"#029E73"},"encoding":{"y":{"field":"s1","type":"quantitative","title":"Demographic Parity","scale":{"domain":[0,0.04],"nice":false,"zero":false},"axis":{"values":[0,0.01,0.02,0.03,0.04],"format":".2f"}},"y2":{"field":"s2"}}},
{"mark":{"type":"line","strokeWidth":2.2},"encoding":{"y":{"field":"f","type":"quantitative","title":"Demographic Parity","scale":{"domain":[0,0.04],"nice":false,"zero":false},"axis":{"values":[0,0.01,0.02,0.03,0.04],"format":".2f"}},"color":{"datum":"Non-private Model Fairness","type":"nominal","legend":null}}},
{"mark":{"type":"point","shape":"M-1,-1L1,1M-1,1L1,-1","size":26,"strokeWidth":1.2,"opacity":1,"filled":false,"color":"#DE8F05"},"encoding":{"y":{"field":"f","type":"quantitative","title":"Demographic Parity","scale":{"domain":[0,0.04],"nice":false,"zero":false},"axis":{"values":[0,0.01,0.02,0.03,0.04],"format":".2f"}}}}
]
},
{
"width":228,"height":170,
"data":{"name":"m"},
"transform":[{"filter":"datum.p === 'f'"}],
"title":{"text":"(f) Equality of Opportunity (","subtitle":"\u200b\u00a0\u00a0\u00a0\u00a0\u00a0\u00a0\u00a0\u00a0\u00a0\u00a0\u00a0\u00a0\u00a0\u00a0\u00a0\u00a0\u00a0\u00a0\u00a0folktables)","dx":-126,"offset":26.5},
"encoding":{"x":{"field":"e","type":"quantitative","title":"Value of \u03f5","scale":{"type":"log","domain":[0.000603,1.059],"nice":false},"axis":{"values":[0.01,1],"labelExpr":"datum.value < 0.1 ? '10\u207b\u00b2' : '10\u2070'"}}},
"layer":[
{"mark":{"type":"area","clip":true,"opacity":0.5},"encoding":{"y":{"field":"lo","type":"quantitative","title":"Equal. Opp.","scale":{"domain":[0,0.04],"nice":false,"zero":false},"axis":{"values":[0,0.01,0.02,0.03,0.04],"format":".2f"}},"y2":{"field":"hi"},"fill":{"datum":"Private Models Fairness","type":"nominal","legend":null}}},
{"transform":[{"fold":["tu","tl","du","dl","iu","il"],"as":["k","v"]}],"mark":{"type":"line","clip":true,"strokeWidth":1.7,"color":"#0173B2"},"encoding":{"y":{"field":"v","type":"quantitative","title":"Equal. Opp.","scale":{"domain":[0,0.04],"nice":false,"zero":false},"axis":{"values":[0,0.01,0.02,0.03,0.04],"format":".2f"}},"strokeDash":{"field":"k","type":"nominal","legend":null}}},
{"mark":{"type":"rule","clip":true,"strokeWidth":3.2,"strokeCap":"round","color":"#029E73"},"encoding":{"y":{"field":"s1","type":"quantitative","title":"Equal. Opp.","scale":{"domain":[0,0.04],"nice":false,"zero":false},"axis":{"values":[0,0.01,0.02,0.03,0.04],"format":".2f"}},"y2":{"field":"s2"}}},
{"mark":{"type":"line","strokeWidth":2.2},"encoding":{"y":{"field":"f","type":"quantitative","title":"Equal. Opp.","scale":{"domain":[0,0.04],"nice":false,"zero":false},"axis":{"values":[0,0.01,0.02,0.03,0.04],"format":".2f"}},"color":{"datum":"Non-private Model Fairness","type":"nominal","legend":null}}},
{"mark":{"type":"point","shape":"M-1,-1L1,1M-1,1L1,-1","size":26,"strokeWidth":1.2,"opacity":1,"filled":false,"color":"#DE8F05"},"encoding":{"y":{"field":"f","type":"quantitative","title":"Equal. Opp.","scale":{"domain":[0,0.04],"nice":false,"zero":false},"axis":{"values":[0,0.01,0.02,0.03,0.04],"format":".2f"}}}}
]
}
]
}
